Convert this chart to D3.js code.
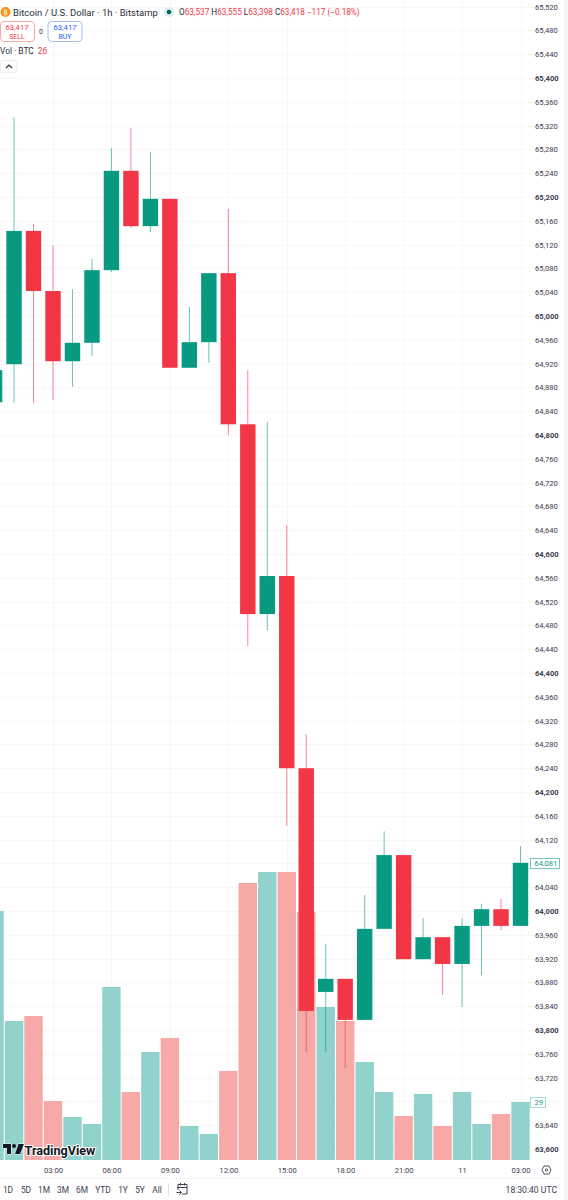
<!DOCTYPE html>
<html>
<head>
<meta charset="utf-8">
<script src="https://cdn.jsdelivr.net/npm/d3@7"></script>
<style>
  html, body { margin: 0; padding: 0; background: #fff; }
  svg { display: block; }
  text { font-family: Roboto, "Noto Sans", sans-serif; }
</style>
</head>
<body>
<div id="chart"></div>
<script>
// hourly candles, index 0 = 00:00 on the 10th
var hours = [0,1,2,3,4,5,6,7,8,9,10,11,12,13,14,15,16,17,18,19,20,21,22,23,24,25,26,27];
var opens = [64855,64919,65143,65042,64924,64955,65077,65244,65151,65197,64913,64956,65072,64818,64499,64563,64240,63864,63886,63817,63970,64094,63919,63956,63911,63975,64003,63975];
var closes = [64909,65143,65042,64924,64955,65077,65244,65151,65197,64913,64956,65072,64818,64499,64563,64240,63832,63886,63817,63970,64094,63919,63956,63911,63975,64003,63975,64081];
var highs = [64909,65334,65155,65119,65045,65096,65282,65316,65276,65197,65015,65072,65180,64909,64822,64649,64297,63945,63886,64027,64134,64094,63988,63956,63988,64012,64020,64109];
var lows = [64855,64854,64854,64859,64881,64933,65074,65148,65141,64913,64913,64921,64800,64445,64472,64143,63763,63763,63736,63817,63970,63919,63919,63859,63839,63892,63968,63975];
var volumes = [124.5,69.5,72,29.5,21.5,18,86.5,34,54,61,17,13,44.5,138.5,144,144,124,76.5,69.5,49,34,22,33,17,34,18,23,29];

var priceTicks = d3.range(63600, 65521, 40);
// these two sit under the last price and last volume labels
var hiddenPriceLabels = [64080, 63680];
var timeTicks = [3,6,9,12,15,18,21,24,27];
var timeLabels = ["03:00","06:00","09:00","12:00","15:00","18:00","21:00","11","03:00"];
var rangeButtons = ["1D","5D","1M","3M","6M","YTD","1Y","5Y","All"];
var rangeButtonX = [8,26,44,63,82,103,123,140,157];

var up = "#089981", down = "#f23645";
var upVol = "#92d2cc", downVol = "#f7a9a7";
var textColor = "#3d4150";

var svgWidth = 568, svgHeight = 1200;
var plotRight = 537, plotBottom = 1160;

var svg = d3.select("#chart").append("svg")
  .attr("width", svgWidth)
  .attr("height", svgHeight);

var x = d3.scaleLinear().domain([3, 27]).range([53, 520.5]);
var y = d3.scaleLinear().domain([65400, 63600]).range([78, 1149]);
var yVol = d3.scaleLinear().domain([0, 29]).range([plotBottom, 1102]);

var defs = svg.append("defs");
defs.append("clipPath").attr("id", "plot").append("rect")
  .attr("width", plotRight).attr("height", plotBottom);

// grid
var grid = svg.append("g").attr("stroke", "#f6f7f8").attr("stroke-width", 1);
grid.selectAll(".h").data(priceTicks).enter().append("line")
  .attr("class", "h")
  .attr("x1", 0).attr("x2", 564)
  .attr("y1", function(d) { return Math.round(y(d)) + 0.5; })
  .attr("y2", function(d) { return Math.round(y(d)) + 0.5; });
grid.selectAll(".v").data(timeTicks).enter().append("line")
  .attr("class", "v")
  .attr("y1", 0).attr("y2", plotBottom)
  .attr("x1", function(d) { return Math.round(x(d)) + 0.5; })
  .attr("x2", function(d) { return Math.round(x(d)) + 0.5; });

var plot = svg.append("g").attr("clip-path", "url(#plot)");

// volume
plot.selectAll(".vol").data(hours).enter().append("rect")
  .attr("class", "vol")
  .attr("x", function(d) { return x(d) - 9.2; })
  .attr("width", 18.4)
  .attr("y", function(d, i) { return yVol(volumes[i]); })
  .attr("height", function(d, i) { return plotBottom - yVol(volumes[i]); })
  .attr("fill", function(d, i) { return closes[i] >= opens[i] ? upVol : downVol; });

// wicks
plot.selectAll(".wick").data(hours).enter().append("line")
  .attr("class", "wick")
  .attr("x1", function(d) { return x(d); })
  .attr("x2", function(d) { return x(d); })
  .attr("y1", function(d, i) { return y(highs[i]); })
  .attr("y2", function(d, i) { return y(lows[i]); })
  .attr("stroke", function(d, i) { return closes[i] >= opens[i] ? up : down; })
  .attr("stroke-opacity", 0.6)
  .attr("stroke-width", 1);

// candle bodies
plot.selectAll(".body").data(hours).enter().append("rect")
  .attr("class", "body")
  .attr("x", function(d) { return x(d) - 7.7; })
  .attr("width", 15.4)
  .attr("y", function(d, i) { return y(Math.max(opens[i], closes[i])); })
  .attr("height", function(d, i) { return Math.abs(y(opens[i]) - y(closes[i])); })
  .attr("fill", function(d, i) { return closes[i] >= opens[i] ? up : down; });

// price axis
var priceAxis = svg.append("g")
  .attr("transform", "translate(535,0)")
  .call(d3.axisRight(y)
    .tickValues(priceTicks.filter(function(d) { return hiddenPriceLabels.indexOf(d) < 0; }))
    .tickSize(0).tickPadding(0).tickFormat(d3.format(",")));
priceAxis.select(".domain").remove();
priceAxis.selectAll("text")
  .attr("font-size", 7.6)
  .attr("fill", textColor)
  .attr("font-weight", function(d) { return d % 200 == 0 ? 700 : 400; });

svg.append("rect").attr("x", 564).attr("y", 0).attr("width", 4).attr("height", svgHeight).attr("fill", "#f4f5f6");

// time axis
var timeAxis = svg.append("g")
  .attr("transform", "translate(0," + plotBottom + ")")
  .call(d3.axisBottom(x).tickValues(timeTicks).tickSize(0).tickPadding(8)
    .tickFormat(function(d, i) { return timeLabels[i]; }));
timeAxis.select(".domain").remove();
timeAxis.selectAll("text").attr("font-size", 7.6).attr("fill", textColor);

svg.append("line").attr("x1", 0).attr("x2", 564).attr("y1", 1178.5).attr("y2", 1178.5).attr("stroke", "#f4f5f6");

// settings icon
var gear = svg.append("g").attr("transform", "translate(546.5,1170)");
gear.append("path")
  .attr("d", "M-2.5,-4 L2.5,-4 L4.5,0 L2.5,4 L-2.5,4 L-4.5,0 Z")
  .attr("fill", "none").attr("stroke", textColor).attr("stroke-width", 0.9);
gear.append("circle").attr("r", 1.2).attr("fill", "none").attr("stroke", textColor).attr("stroke-width", 0.9);

// last price and volume labels
svg.append("rect").attr("x", 530.5).attr("y", 858.5).attr("width", 29).attr("height", 10)
  .attr("fill", "#fff").attr("stroke", "#79c4b8");
svg.append("text").attr("x", 534.5).attr("y", 866.3).attr("font-size", 7.6).attr("fill", up).text("64,081");
svg.append("rect").attr("x", 530.5).attr("y", 1097.5).attr("width", 15).attr("height", 10)
  .attr("fill", "#fff").attr("stroke", "#a6dad3");
svg.append("text").attr("x", 534.5).attr("y", 1105.3).attr("font-size", 7.6).attr("fill", up).text("29");

// header
var header = svg.append("g");
header.append("circle").attr("cx", 5.5).attr("cy", 12).attr("r", 5).attr("fill", "#f7931a");
header.append("text").attr("x", 5.5).attr("y", 14.5).attr("text-anchor", "middle")
  .attr("font-size", 7).attr("fill", "#fff").text("₿");
header.append("text").attr("x", 13).attr("y", 15.6).attr("font-size", 9.5).attr("fill", "#2a2e39")
  .text("Bitcoin / U.S. Dollar · 1h · Bitstamp");
header.append("circle").attr("cx", 169).attr("cy", 12).attr("r", 5).attr("fill", "#d8f0ec");
header.append("circle").attr("cx", 169).attr("cy", 12).attr("r", 2.3).attr("fill", "#056656");

var ohlc = header.append("text").attr("x", 179).attr("y", 15).attr("font-size", 8.2);
[["O","63,537"],["H","63,555"],["L","63,398"],["C","63,418"]].forEach(function(p) {
  ohlc.append("tspan").attr("fill", "#2a2e39").text(p[0]);
  ohlc.append("tspan").attr("fill", down).text(p[1] + " ");
});
ohlc.append("tspan").attr("fill", down).text("−117 (−0.18%)");

header.append("rect").attr("x", 0.5).attr("y", 21.5).attr("width", 34).attr("height", 20).attr("rx", 3.5)
  .attr("fill", "#fff").attr("stroke", "#f7a9a7");
header.append("text").attr("x", 17).attr("y", 30).attr("text-anchor", "middle").attr("font-size", 7.6).attr("fill", down).text("63,417");
header.append("text").attr("x", 17).attr("y", 38.5).attr("text-anchor", "middle").attr("font-size", 7).attr("fill", down).text("SELL");
header.append("text").attr("x", 41).attr("y", 33.5).attr("text-anchor", "middle").attr("font-size", 7).attr("fill", textColor).text("0");
header.append("rect").attr("x", 48).attr("y", 21.5).attr("width", 34).attr("height", 20).attr("rx", 3.5)
  .attr("fill", "#fff").attr("stroke", "#a8bdf2");
header.append("text").attr("x", 65).attr("y", 30).attr("text-anchor", "middle").attr("font-size", 7.6).attr("fill", "#2962ff").text("63,417");
header.append("text").attr("x", 65).attr("y", 38.5).attr("text-anchor", "middle").attr("font-size", 7).attr("fill", "#2962ff").text("BUY");

var vol = header.append("text").attr("x", 0).attr("y", 54).attr("font-size", 8.4);
vol.append("tspan").attr("fill", "#2a2e39").text("Vol · BTC ");
vol.append("tspan").attr("fill", down).attr("dx", 2).text("26");

header.append("rect").attr("x", 0.5).attr("y", 60.5).attr("width", 16.5).attr("height", 12).attr("rx", 2)
  .attr("fill", "#fff").attr("stroke", "#eceef1");
header.append("path").attr("d", "M6,68 L9,65 L12,68").attr("fill", "none").attr("stroke", "#2a2e39").attr("stroke-width", 1.2);

// TradingView logo
var logo = svg.append("g").attr("transform", "translate(3,1144)");
logo.append("path").attr("d", "M0,0 H8 V10 H4 V4 H0 Z M12,10 L15.5,0 H21 L17,10 Z").attr("fill", "#131722")
  .attr("stroke", "#fff").attr("stroke-width", 1).attr("paint-order", "stroke");
logo.append("circle").attr("cx", 11).attr("cy", 2).attr("r", 2).attr("fill", "#131722");
logo.append("text").attr("x", 21.5).attr("y", 10.8).attr("font-size", 12.6).attr("font-weight", 700)
  .attr("fill", "#131722").attr("stroke", "#fff").attr("stroke-width", 2).attr("paint-order", "stroke")
  .text("TradingView");

// bottom toolbar
svg.selectAll(".range").data(rangeButtons).enter().append("text")
  .attr("class", "range")
  .attr("x", function(d, i) { return rangeButtonX[i]; })
  .attr("y", 1193)
  .attr("text-anchor", "middle")
  .attr("font-size", 8.4)
  .attr("fill", textColor)
  .text(function(d) { return d; });
svg.append("line").attr("x1", 168.5).attr("x2", 168.5).attr("y1", 1183).attr("y2", 1196).attr("stroke", "#e0e3eb");
svg.append("path").attr("d", "M178,1190 V1184.5 H187 V1194 H182 M177,1187.5 H187 M180.5,1183 V1185.5 M184.5,1183 V1185.5 M176.5,1192.5 H181 M179.5,1190.5 L181.5,1192.5 L179.5,1194.5")
  .attr("fill", "none").attr("stroke", textColor).attr("stroke-width", 1);
svg.append("text").attr("x", 557).attr("y", 1193).attr("text-anchor", "end")
  .attr("font-size", 8.6).attr("fill", textColor).text("18:30:40 UTC");
</script>
</body>
</html>
